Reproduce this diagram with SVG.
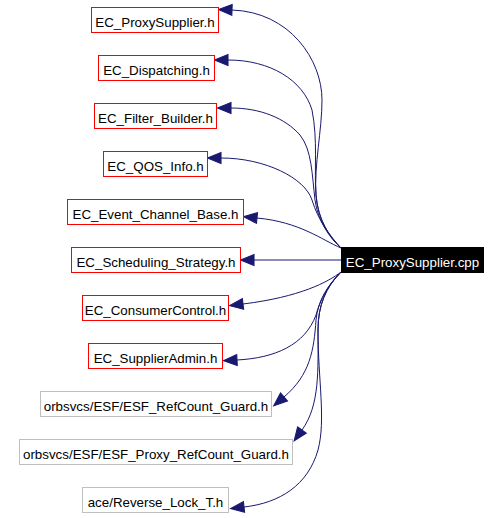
<svg xmlns="http://www.w3.org/2000/svg" width="502" height="518" viewBox="0 0 502 518">
<style>
.bg{fill:#ffffff}
.n rect{fill:#ffffff;stroke-width:1}
.red rect{stroke:#ff0000}
.grey rect{stroke:#bfbfbf}
.root rect{fill:#000000;stroke:#000000}
.n text{font-family:"Liberation Sans",Arial,sans-serif;font-size:13.33px;text-anchor:middle;fill:#000000}
.root text{fill:#ffffff}
.e path{fill:none;stroke:#191970;stroke-width:1;marker-end:url(#ah)}
</style>
<defs>
<marker id="ah" markerUnits="userSpaceOnUse" markerWidth="14" markerHeight="12" refX="0" refY="5" orient="auto" viewBox="0 0 13 10" overflow="visible">
<path d="M0,0 L12.5,5 L0,10 z" fill="#191970" stroke="#191970" stroke-width="1"/>
</marker>
</defs>
<rect class="bg" x="0" y="0" width="502" height="518"/>
<g id="edges" class="e">
<path d="M341,248 C328,235 318,220 316,195 C314,165 322,130 322,100 C322,60 290,12 232,10"/>
<path d="M341,248 C330,238 318,220 316,195 C314,170 318,140 312,110 C303,80 270,60 228,60"/>
<path d="M341,248 C330,238 318,222 315,200 C312,175 312,150 300,135 C285,118 260,108 231,108"/>
<path d="M341,248 C330,236 318,220 312,200 C305,178 265,158 221,158"/>
<path d="M341,248 C322,240 300,222 257,218"/>
<path d="M341,260 L254,260"/>
<path d="M341,272 C328,282 300,297 243,304"/>
<path d="M341,272 C328,285 320,300 316,315 C305,345 275,358 237,360"/>
<path d="M341,272 C328,285 318,300 316,320 C314,350 310,375 284,397"/>
<path d="M341,272 C326,287 318,305 318,330 C318,370 320,405 302,430"/>
<path d="M341,272 C326,287 318,305 318,330 C318,380 326,420 318,450 C308,485 280,503 244,507"/>
</g>
<g id="n1" class="n red"><rect x="91.5" y="7.5" width="127" height="25"/><text x="155" y="26.5">EC_ProxySupplier.h</text></g>
<g id="n2" class="n red"><rect x="98.5" y="55.5" width="116" height="25"/><text x="156.5" y="74.5">EC_Dispatching.h</text></g>
<g id="n3" class="n red"><rect x="94.5" y="103.5" width="122" height="25"/><text x="155.5" y="122.5">EC_Filter_Builder.h</text></g>
<g id="n4" class="n red"><rect x="103.5" y="151.5" width="104" height="25"/><text x="155.5" y="170.5">EC_QOS_Info.h</text></g>
<g id="n5" class="n red"><rect x="67.5" y="199.5" width="176" height="25"/><text x="155.5" y="218.5">EC_Event_Channel_Base.h</text></g>
<g id="n6" class="n red"><rect x="71.5" y="247.5" width="169" height="25"/><text x="156" y="266.5">EC_Scheduling_Strategy.h</text></g>
<g id="n7" class="n red"><rect x="82.5" y="295.5" width="146" height="25"/><text x="155.5" y="314.5">EC_ConsumerControl.h</text></g>
<g id="n8" class="n red"><rect x="88.5" y="343.5" width="134" height="25"/><text x="155.5" y="362.5">EC_SupplierAdmin.h</text></g>
<g id="n9" class="n grey"><rect x="40.5" y="391.5" width="231" height="25"/><text x="156" y="410.5">orbsvcs/ESF/ESF_RefCount_Guard.h</text></g>
<g id="n10" class="n grey"><rect x="19.5" y="439.5" width="273" height="25"/><text x="156" y="458.5">orbsvcs/ESF/ESF_Proxy_RefCount_Guard.h</text></g>
<g id="n11" class="n grey"><rect x="82.5" y="487.5" width="146" height="25"/><text x="155.5" y="506.5">ace/Reverse_Lock_T.h</text></g>
<g id="root" class="n root"><rect x="341.5" y="247.5" width="142" height="25"/><text x="412.5" y="266.5">EC_ProxySupplier.cpp</text></g>
</svg>
